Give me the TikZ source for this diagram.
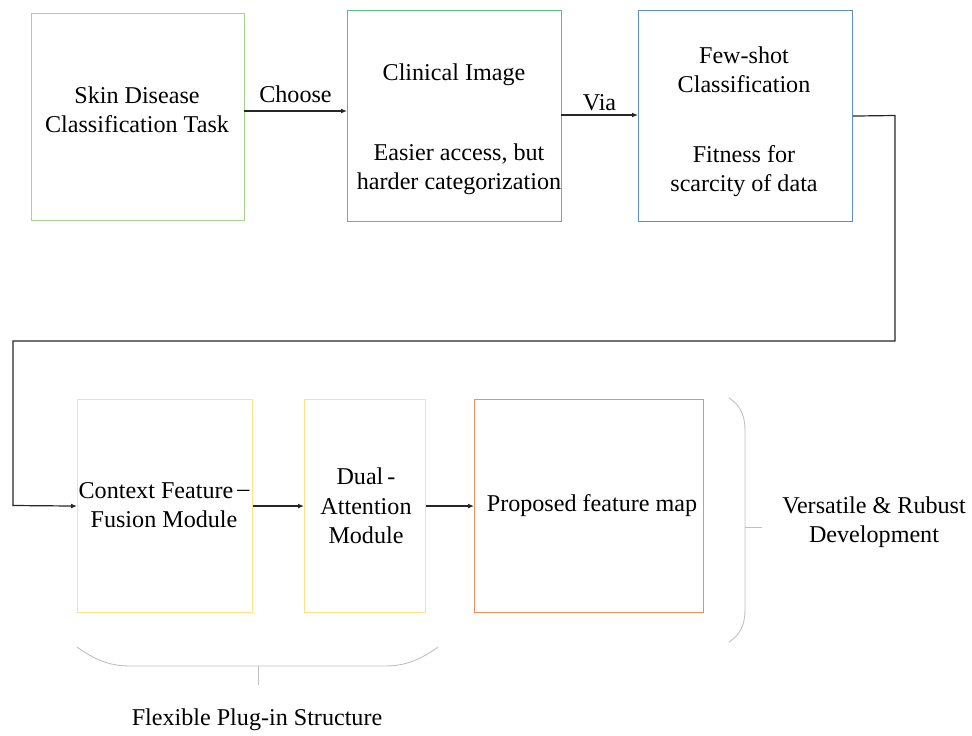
\documentclass[tikz,border=0pt]{standalone}
\usepackage{fontspec}
\setmainfont{Liberation Serif}
\usetikzlibrary{arrows.meta}
\definecolor{cgreen}{HTML}{A9D18E}
\definecolor{cteal}{HTML}{55BD8A}
\definecolor{cblue}{HTML}{5B8FC0}
\definecolor{cyellow}{HTML}{FFE38A}
\definecolor{corange}{HTML}{E8915A}
\definecolor{cgray}{HTML}{C0C0C0}
\begin{document}
\begin{tikzpicture}[x=1bp,y=-1bp,
  box/.style={draw=#1, line width=1.1bp, anchor=north west, inner sep=0pt},
  txt/.style={font=\fontsize{24.2}{29.5}\selectfont, align=center, inner sep=0pt},
  conn/.style={draw=black!85, line width=1.2bp, -{Latex[length=6bp,width=5bp]}},
  brace/.style={draw=cgray, line width=0.9bp}]
\useasboundingbox (0,0) rectangle (972,736);
% top row
\node[box=cgreen, minimum width=213bp, minimum height=207bp] (skin) at (31,13) {};
\node[box=cteal, minimum width=214bp, minimum height=211bp] (clin) at (347,10) {};
\node[box=cblue, minimum width=214bp, minimum height=211bp] (fs) at (638,10) {};
\node[txt] (skint) at (137,110) {Skin Disease\\Classification Task};
\node[txt] (clint) at (454,75) {Clinical Image};
\node[txt] (clins) at (459,169) {Easier access, but\\harder categorization};
\node[txt] (fst) at (744,70) {Few-shot\\Classification};
\node[txt] (fss) at (744,171) {Fitness for\\scarcity of data};
% bottom row
\node[box=cyellow, minimum width=175bp, minimum height=213bp] (cf) at (77,399) {};
\node[box=cyellow, minimum width=121bp, minimum height=213bp] (da) at (304,399) {};
\node[box=corange, minimum width=229bp, minimum height=213bp] (pf) at (474,399) {};
\node[txt] (cft) at (164,505) {Context Feature\,\raisebox{0.15ex}{–}\\Fusion Module};
\node[txt] (dat) at (366,506) {Dual\,-\\Attention\\Module};
\node[txt] (pft) at (592,506) {Proposed feature map};
% connectors
\coordinate (skinR) at (244,111);
\coordinate (clinL) at (347,111);
\draw[conn] (skinR) -- (clinL) node[txt, midway, above=8bp] (choose) {Choose};
\coordinate (clinR) at (561,115);
\coordinate (fsL) at (638,115);
\draw[conn] (clinR) -- (fsL) node[txt, midway, above=4bp] (via) {Via};
\coordinate (c1) at (895,115.5);
\coordinate (c2) at (895,341);
\coordinate (c3) at (13,341);
\coordinate (c4) at (13,505.5);
\draw[conn] (fs.east) -- (c1) -- (c2) -- (c3) -- (c4) -- (cf.west);
\draw[conn] (cf.east) -- (da.west);
\draw[conn] (da.east) -- (pf.west);
% bottom brace
\draw[brace] (77,647) .. controls (95,660) and (110,666) .. (130,666) -- (385,666)
  .. controls (405,666) and (420,660) .. (438,647);
\coordinate (bt1) at (258,666);
\coordinate (bt2) at (258,685);
\draw[brace] (bt1) -- (bt2);
\node[txt] (flex) at (257,720) {Flexible Plug-in Structure};
% right brace
\draw[brace] (729,398) .. controls (740,405) and (745,415) .. (745,430) -- (745,610)
  .. controls (745,625) and (740,635) .. (729,642);
\coordinate (rt1) at (745,527);
\coordinate (rt2) at (762,527);
\draw[brace] (rt1) -- (rt2);
\node[txt] (vers) at (874,522) {Versatile \& Rubust\\Development};
\end{tikzpicture}
\end{document}
